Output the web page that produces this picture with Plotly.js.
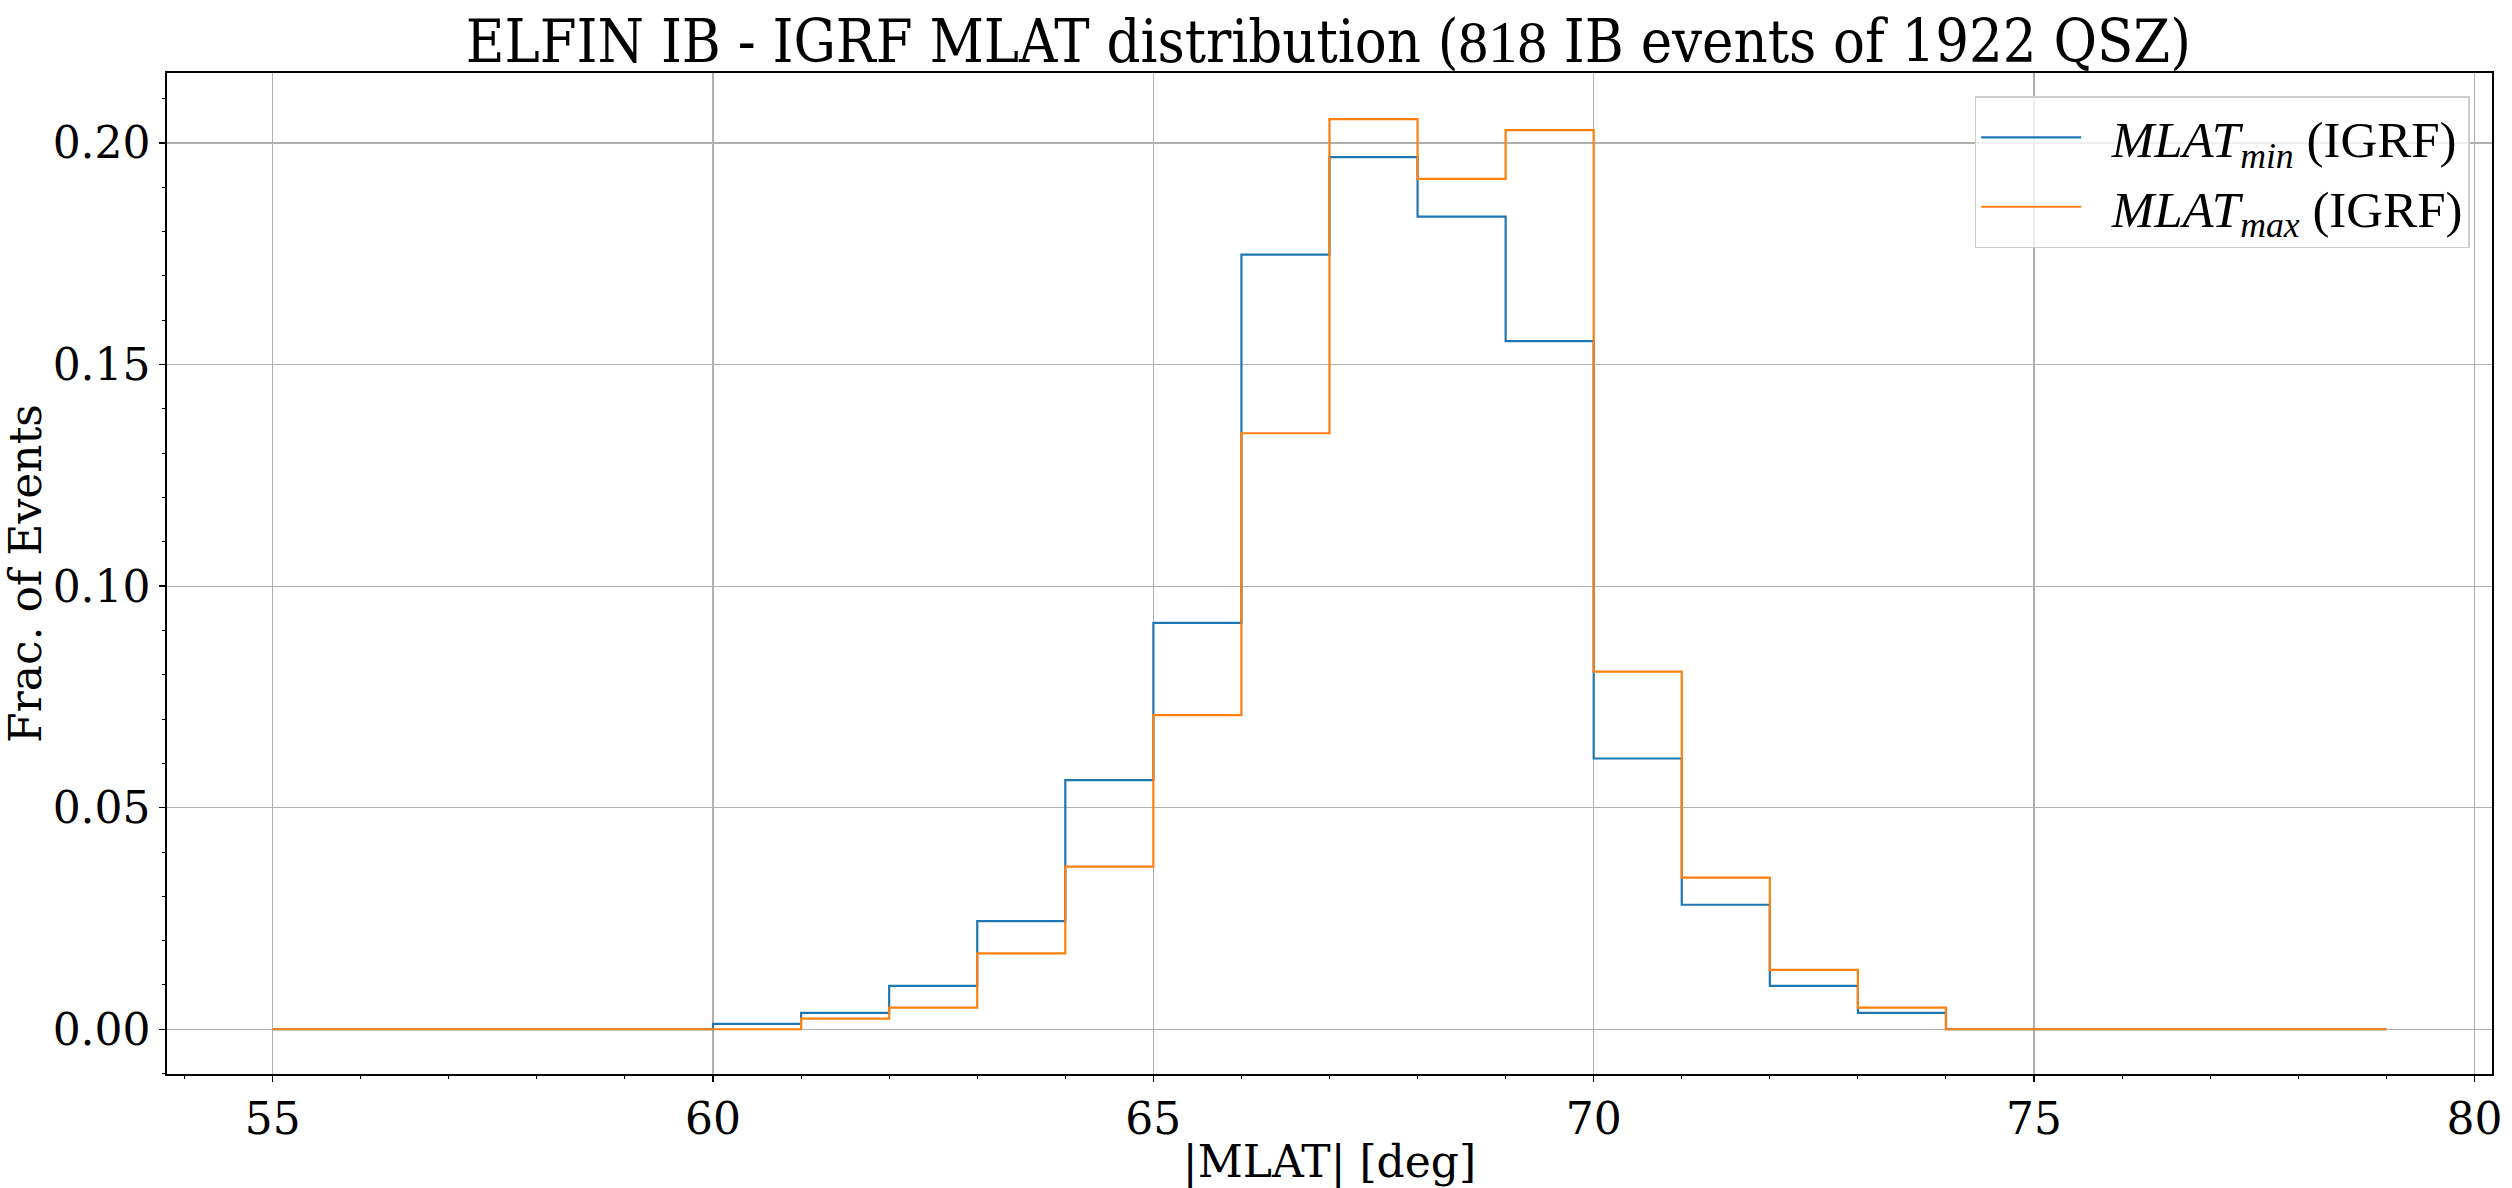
<!DOCTYPE html>
<html>
<head>
<meta charset="utf-8">
<script src="https://cdn.plot.ly/plotly-3.0.1.min.js"></script>
<style>
  html, body { margin: 0; padding: 0; background: #ffffff; }
  #chart { width: 2512px; height: 1188px; }
</style>
</head>
<body>
<div id="chart"></div>
<script>
// Bin edges of the histogram (|MLAT| in degrees)
const binEdges = [55,56,57,58,59,60,61,62,63,64,65,66,67,68,69,70,71,72,73,74,75,76,77,78,79];
// Fraction of events per bin
const fracMin = [0,0,0,0,0, 0.0012,0.0037,0.0098,0.0244,0.0562,0.0917,0.1748,0.1968,0.1834,0.1553,0.0611,0.0281,0.0098,0.0037, 0,0,0,0,0];
const fracMax = [0,0,0,0,0, 0.0000,0.0024,0.0049,0.0171,0.0367,0.0709,0.1345,0.2054,0.1919,0.2029,0.0807,0.0342,0.0134,0.0049, 0,0,0,0,0];
const seriesNames = [
  '\u00a0\u00a0<i>MLAT</i><sub><i>min</i></sub> (IGRF)',
  '\u00a0\u00a0<i>MLAT</i><sub><i>max</i></sub> (IGRF)'
];
const xTickVals = [55,60,65,70,75,80];
const yTickVals = [0,0.05,0.10,0.15,0.20];

// Step outline like matplotlib histtype='step'
function stepOutline(edges, vals) {
  const xs = [edges[0]], ys = [0];
  for (let i = 0; i < vals.length; i++) {
    xs.push(edges[i]); ys.push(vals[i]);
    xs.push(edges[i + 1]); ys.push(vals[i]);
  }
  xs.push(edges[edges.length - 1]); ys.push(0);
  return {xs, ys};
}

const sMin = stepOutline(binEdges, fracMin);
const sMax = stepOutline(binEdges, fracMax);

const traces = [
  {x: sMin.xs, y: sMin.ys, type: 'scatter', mode: 'lines', name: seriesNames[0],
   line: {color: '#1f77b4', width: 2.2, shape: 'linear'}, hoverinfo: 'skip'},
  {x: sMax.xs, y: sMax.ys, type: 'scatter', mode: 'lines', name: seriesNames[1],
   line: {color: '#ff7f0e', width: 2.2, shape: 'linear'}, hoverinfo: 'skip'}
];

const axisFont = {family: 'DejaVu Serif', size: 44, color: '#000000'};

const layout = {
  width: 2512, height: 1188,
  paper_bgcolor: '#ffffff', plot_bgcolor: '#ffffff',
  margin: {l: 167, r: 20, t: 73, b: 114, pad: 0},
  showlegend: true,
  title: {
    text: 'ELFIN IB - IGRF MLAT distribution (<span style="font-family:\'Liberation Serif\'">818</span> IB events of 1922 QSZ)',
    font: {family: "'DejaVu Serif Condensed', 'DejaVu Serif'", size: 59, color: '#000000'},
    x: 0.5288, xanchor: 'center', xref: 'container',
    y: 0.965, yanchor: 'middle', yref: 'container'
  },
  xaxis: {
    range: [53.8, 80.2], autorange: false,
    tickmode: 'array', tickvals: xTickVals, ticktext: xTickVals.map(String),
    ticks: 'outside', ticklen: 6, tickwidth: 1.3, tickcolor: '#000000',
    showline: true, linecolor: '#000000', linewidth: 1.6, mirror: true,
    showgrid: true, gridcolor: '#b0b0b0', gridwidth: 1.2,
    zeroline: false,
    tickfont: axisFont,
    minor: {dtick: 1, tick0: 0, ticks: 'outside', ticklen: 3.5, tickwidth: 1, tickcolor: '#000000', showgrid: false},
    title: {text: '|MLAT| [deg]', font: axisFont, standoff: 6}
  },
  yaxis: {
    range: [-0.0101, 0.2158], autorange: false,
    tickmode: 'array', tickvals: yTickVals, ticktext: yTickVals.map(v => v.toFixed(2)),
    ticks: 'outside', ticklen: 6, tickwidth: 1.3, tickcolor: '#000000',
    showline: true, linecolor: '#000000', linewidth: 1.6, mirror: true,
    showgrid: true, gridcolor: '#b0b0b0', gridwidth: 1.2,
    zeroline: false,
    tickfont: axisFont,
    minor: {dtick: 0.01, tick0: 0, ticks: 'outside', ticklen: 3.5, tickwidth: 1, tickcolor: '#000000', showgrid: false},
    title: {text: 'Frac. of Events', font: axisFont, standoff: 10}
  },
  legend: {
    x: 0.9904, xanchor: 'right', y: 0.9767, yanchor: 'top',
    bgcolor: 'rgba(255,255,255,0.8)', bordercolor: '#cccccc', borderwidth: 1.5,
    font: {family: 'Liberation Serif', size: 51, color: '#000000'},
    itemwidth: 100, tracegroupgap: 0
  }
};

Plotly.newPlot('chart', traces, layout, {staticPlot: true, displayModeBar: false});
</script>
</body>
</html>
